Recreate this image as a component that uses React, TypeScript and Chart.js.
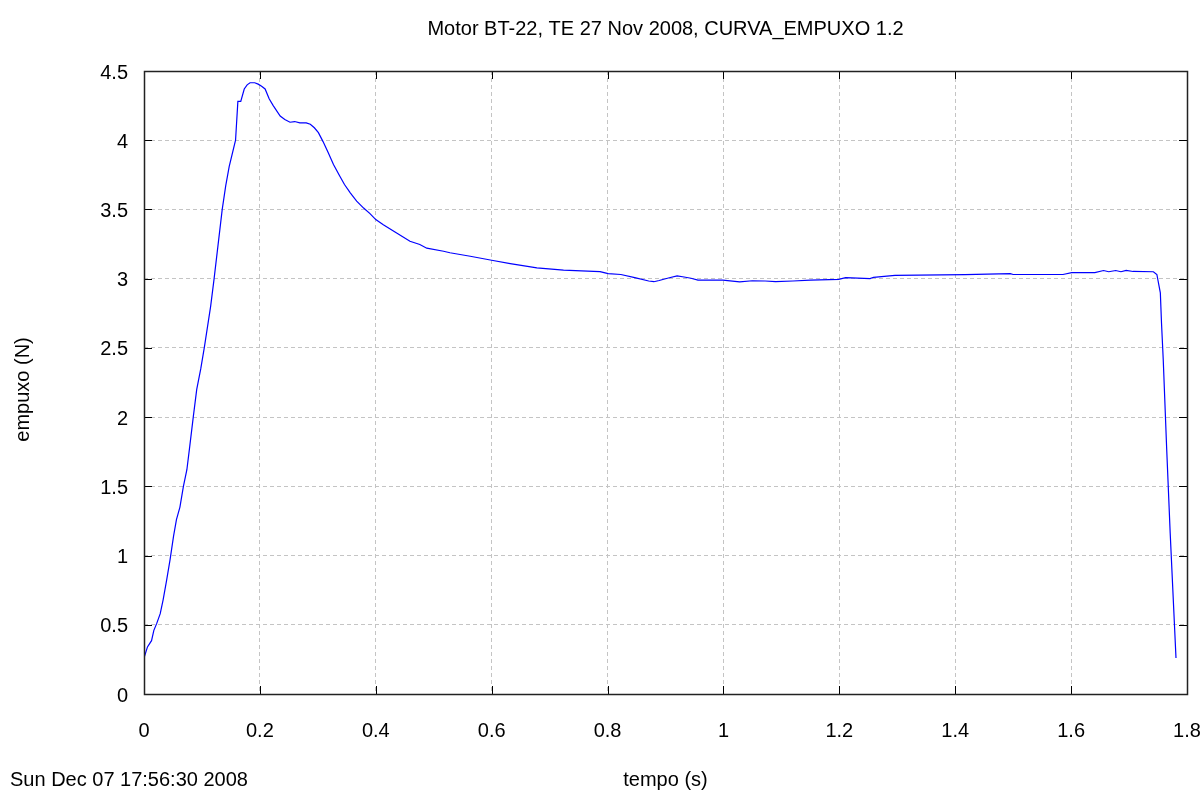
import React, { useEffect, useRef } from 'react';
import { Chart, registerables } from 'chart.js';

Chart.register(...registerables);

const TITLE = 'Motor BT-22, TE 27 Nov 2008, CURVA_EMPUXO 1.2';
const X_LABEL = 'tempo (s)';
const Y_LABEL = 'empuxo (N)';
const DATE_LABEL = 'Sun Dec 07 17:56:30 2008';

const X_TICKS = [0, 0.2, 0.4, 0.6, 0.8, 1.0, 1.2, 1.4, 1.6, 1.8];
const Y_TICKS = [0, 0.5, 1, 1.5, 2, 2.5, 3, 3.5, 4, 4.5];

// tempo (s)
const TIME = [
  0.000, 0.006, 0.013, 0.017, 0.022, 0.028, 0.033, 0.039, 0.045, 0.051,
  0.056, 0.062, 0.068, 0.074, 0.079, 0.085, 0.091, 0.098, 0.104, 0.115,
  0.121, 0.135, 0.141, 0.147, 0.158, 0.162, 0.167, 0.173, 0.178, 0.183,
  0.191, 0.197, 0.203, 0.209, 0.216, 0.223, 0.235, 0.243, 0.252, 0.260,
  0.269, 0.280, 0.287, 0.294, 0.301, 0.309, 0.318, 0.327, 0.338, 0.346,
  0.356, 0.367, 0.379, 0.390, 0.400, 0.413, 0.436, 0.459, 0.476, 0.488,
  0.517, 0.528, 0.563, 0.600, 0.632, 0.678, 0.724, 0.776, 0.787, 0.801,
  0.823, 0.847, 0.871, 0.880, 0.889, 0.905, 0.920, 0.932, 0.944, 0.956,
  0.999, 1.028, 1.050, 1.072, 1.090, 1.120, 1.150, 1.199, 1.211, 1.253,
  1.259, 1.296, 1.417, 1.495, 1.500, 1.586, 1.601, 1.641, 1.656, 1.665,
  1.677, 1.686, 1.695, 1.707, 1.742, 1.748, 1.754, 1.756, 1.759, 1.765,
  1.771, 1.781,
];

// empuxo (N)
const THRUST = [
  0.26, 0.34, 0.385, 0.46, 0.51, 0.58, 0.68, 0.82, 0.97, 1.14,
  1.26, 1.35, 1.50, 1.62, 1.79, 2.00, 2.20, 2.35, 2.50, 2.80,
  3.00, 3.50, 3.67, 3.81, 4.00, 4.28, 4.28, 4.37, 4.40, 4.415,
  4.415, 4.405, 4.39, 4.37, 4.30, 4.25, 4.175, 4.15, 4.13, 4.135,
  4.126, 4.125, 4.115, 4.09, 4.055, 3.99, 3.91, 3.825, 3.74, 3.68,
  3.62, 3.56, 3.51, 3.47, 3.427, 3.39, 3.33, 3.27, 3.247, 3.22,
  3.198, 3.187, 3.162, 3.133, 3.109, 3.078, 3.061, 3.053, 3.051, 3.037,
  3.03, 3.008, 2.983, 2.978, 2.987, 3.005, 3.02, 3.012, 3.003, 2.99,
  2.99, 2.977, 2.985, 2.983, 2.978, 2.983, 2.99, 2.995, 3.008, 3.0,
  3.01, 3.024, 3.029, 3.036, 3.03, 3.03, 3.044, 3.044, 3.059, 3.05,
  3.059, 3.05, 3.06, 3.052, 3.05, 3.03, 2.897, 2.68, 2.415, 1.764,
  1.162, 0.26,
];

const FONT = '"Liberation Sans", Arial, Helvetica, sans-serif';

const fmt = (v: number) => String(Number(v.toFixed(2)));

const decorPlugin = {
  id: 'decor',
  afterDraw(chart: any) {
    const { ctx, chartArea } = chart;
    const { left, right, top, bottom } = chartArea;
    const xs = chart.scales.x;
    const ys = chart.scales.y;
    ctx.save();
    // inward tick marks
    ctx.strokeStyle = '#000';
    ctx.lineWidth = 1;
    ctx.beginPath();
    for (const v of Y_TICKS) {
      const py = Math.round(ys.getPixelForValue(v)) + 0.5;
      ctx.moveTo(left, py);
      ctx.lineTo(left + 8, py);
      ctx.moveTo(right, py);
      ctx.lineTo(right - 8, py);
    }
    for (const v of X_TICKS) {
      const px = Math.round(xs.getPixelForValue(v)) + 0.5;
      ctx.moveTo(px, bottom);
      ctx.lineTo(px, bottom - 8);
      ctx.moveTo(px, top);
      ctx.lineTo(px, top + 8);
    }
    ctx.stroke();
    // frame
    ctx.strokeStyle = '#222';
    ctx.lineWidth = 1.5;
    ctx.strokeRect(Math.round(left) + 0.5, Math.round(top) + 0.5, Math.round(right - left), Math.round(bottom - top));

    // texts
    ctx.fillStyle = '#000';
    ctx.font = `20px ${FONT}`;
    ctx.textAlign = 'center';
    ctx.textBaseline = 'alphabetic';
    ctx.fillText(TITLE, (left + right) / 2, 35);
    ctx.fillText(X_LABEL, (left + right) / 2, 786);
    ctx.textAlign = 'left';
    ctx.fillText(DATE_LABEL, 10, 786);
    ctx.save();
    ctx.translate(29, (top + bottom) / 2 + 7);
    ctx.rotate(-Math.PI / 2);
    ctx.textAlign = 'center';
    ctx.fillText(Y_LABEL, 0, 0);
    ctx.restore();
    ctx.restore();
  },
};

export default function App() {
  const canvasRef = useRef<HTMLCanvasElement | null>(null);

  useEffect(() => {
    if (!canvasRef.current) return;
    const points = TIME.map((t, i) => ({ x: t, y: THRUST[i] }));
    const chart = new Chart(canvasRef.current, {
      type: 'line',
      data: {
        datasets: [
          {
            data: points,
            borderColor: '#0000ff',
            borderWidth: 1.2,
            pointRadius: 0,
            tension: 0,
            fill: false,
          },
        ],
      },
      options: {
        responsive: false,
        animation: false,
        parsing: true,
        layout: { padding: { top: 71, right: 16, left: 0, bottom: 0 } },
        plugins: {
          legend: { display: false },
          title: { display: false },
          tooltip: { enabled: false },
        },
        scales: {
          x: {
            type: 'linear',
            min: 0,
            max: 1.8,
            afterBuildTicks: (scale: any) => {
              scale.ticks = X_TICKS.map((v) => ({ value: v }));
            },
            afterFit: (scale: any) => {
              scale.height = 97;
              scale.paddingLeft = 0;
              scale.paddingRight = 0;
            },
            ticks: {
              autoSkip: false,
              maxRotation: 0,
              padding: 25,
              color: '#000',
              font: { family: FONT, size: 20 },
              callback: (v: any) => fmt(Number(v)),
            },
            grid: { color: '#c4c4c4', lineWidth: 1, drawTicks: false },
            border: { display: false, dash: [4, 3] },
          },
          y: {
            type: 'linear',
            min: 0,
            max: 4.5,
            afterBuildTicks: (scale: any) => {
              scale.ticks = Y_TICKS.map((v) => ({ value: v }));
            },
            afterFit: (scale: any) => {
              scale.width = 144;
              scale.paddingTop = 0;
              scale.paddingBottom = 0;
            },
            ticks: {
              padding: 16,
              labelOffset: 2,
              color: '#000',
              font: { family: FONT, size: 20 },
              callback: (v: any) => fmt(Number(v)),
            },
            grid: { color: '#c4c4c4', lineWidth: 1, drawTicks: false },
            border: { display: false, dash: [4, 3] },
          },
        },
      },
      plugins: [decorPlugin],
    });
    return () => chart.destroy();
  }, []);

  return (
    <div style={{ position: 'absolute', left: 0, top: 0, width: 1203, height: 791, background: '#fff' }}>
      <canvas ref={canvasRef} width={1203} height={791} style={{ display: 'block' }} />
    </div>
  );
}
